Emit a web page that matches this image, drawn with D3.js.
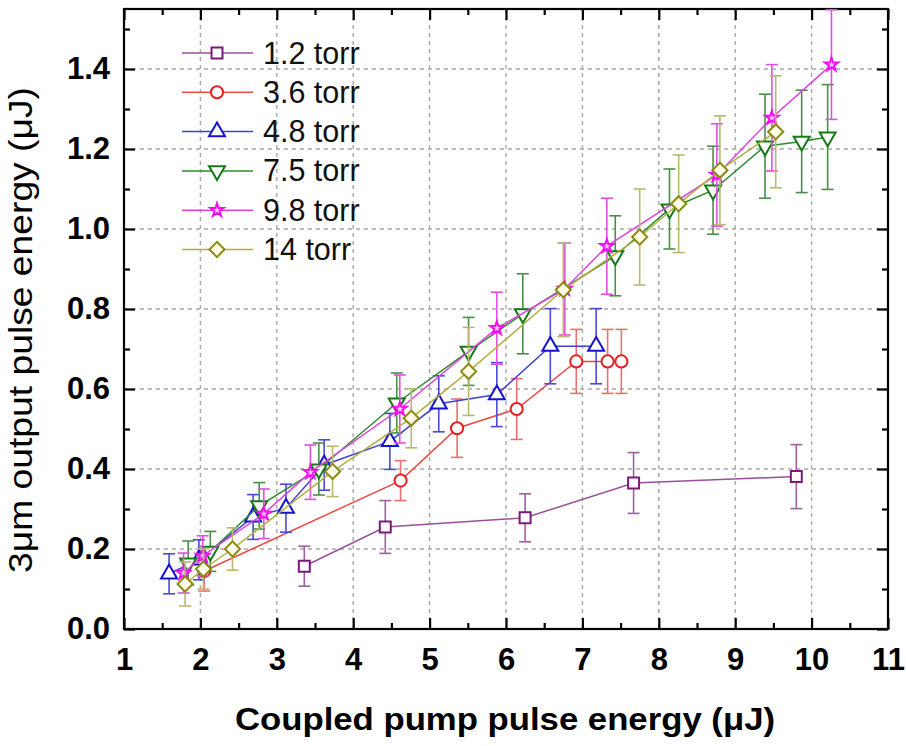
<!DOCTYPE html>
<html>
<head>
<meta charset="utf-8">
<script src="https://cdn.jsdelivr.net/npm/d3@7"></script>
<style>
  body { margin: 0; background: #fff; }
  text { font-family: "Liberation Sans", Arial, sans-serif; }
</style>
</head>
<body>
<svg id="chart" width="906" height="746"></svg>
<script>
// pressure labels
var names = ["1.2 torr", "3.6 torr", "4.8 torr", "7.5 torr", "9.8 torr", "14 torr"];

// coupled pump energy (uJ), output energy (uJ), error (uJ) for each pressure
var x12 = [3.36, 4.42, 6.25, 7.67, 9.80];
var y12 = [0.157, 0.255, 0.278, 0.365, 0.381];
var e12 = [0.05, 0.066, 0.06, 0.076, 0.08];

var x36 = [2.05, 4.62, 5.36, 6.14, 6.92, 7.33, 7.51];
var y36 = [0.145, 0.371, 0.502, 0.55, 0.669, 0.669, 0.669];
var e36 = [0.05, 0.05, 0.073, 0.076, 0.08, 0.08, 0.08];

var x48 = [1.59, 1.98, 2.69, 3.12, 3.62, 4.48, 5.12, 5.88, 6.58, 7.18];
var y48 = [0.138, 0.173, 0.28, 0.302, 0.41, 0.469, 0.563, 0.586, 0.707, 0.707];
var e48 = [0.05, 0.05, 0.056, 0.06, 0.063, 0.07, 0.07, 0.08, 0.094, 0.094];

var x75 = [1.84, 2.13, 2.77, 3.55, 4.57, 5.51, 6.22, 7.43, 8.14, 8.71, 9.39, 9.87, 10.21];
var y75 = [0.165, 0.194, 0.308, 0.40, 0.565, 0.694, 0.788, 0.933, 1.05, 1.097, 1.207, 1.219, 1.23];
var e75 = [0.055, 0.05, 0.058, 0.065, 0.075, 0.085, 0.1, 0.1, 0.1, 0.11, 0.13, 0.128, 0.131];

var x98 = [1.78, 2.03, 2.83, 3.44, 4.61, 5.88, 6.77, 7.32, 8.76, 9.48, 10.26];
var y98 = [0.14, 0.183, 0.288, 0.392, 0.55, 0.752, 0.85, 0.957, 1.135, 1.278, 1.411];
var e98 = [0.05, 0.05, 0.062, 0.068, 0.085, 0.09, 0.115, 0.12, 0.128, 0.133, 0.137];

var x14 = [1.80, 2.04, 2.42, 3.73, 4.76, 5.51, 6.75, 7.75, 8.26, 8.80, 9.53];
var y14 = [0.1125, 0.15, 0.2, 0.394, 0.527, 0.644, 0.848, 0.98, 1.063, 1.147, 1.243];
var e14 = [0.055, 0.05, 0.053, 0.063, 0.074, 0.11, 0.117, 0.12, 0.122, 0.136, 0.14];

var xTicks = [1, 2, 3, 4, 5, 6, 7, 8, 9, 10, 11];
var yTicks = [0.0, 0.2, 0.4, 0.6, 0.8, 1.0, 1.2, 1.4];

var styles = [
  {line: "#9a4f9a", mark: "#7a1a7a", err: "#a060a0", fill: "#fff", shape: "square"},
  {line: "#ec4a44", mark: "#e62020", err: "#e87070", fill: "#fff", shape: "circle"},
  {line: "#4040d4", mark: "#1414d0", err: "#4a4ad4", fill: "#fff", shape: "triangle"},
  {line: "#2e8a2e", mark: "#157a15", err: "#4a904a", fill: "#fff", shape: "triangleDown"},
  {line: "#e040e0", mark: "#f010f0", err: "#e050e0", fill: "#ffc8ff", shape: "star"},
  {line: "#b0b040", mark: "#8a8a10", err: "#b8b870", fill: "#fffde8", shape: "diamond"}
];

var xs = [x12, x36, x48, x75, x98, x14];
var ys = [y12, y36, y48, y75, y98, y14];
var es = [e12, e36, e48, e75, e98, e14];

var data = names.map(function(n, i) {
  return {
    name: n,
    style: styles[i],
    points: xs[i].map(function(v, j) { return {x: v, y: ys[i][j], e: es[i][j]}; })
  };
});

var svg = d3.select("#chart");
var pLeft = 124, pRight = 888, pTop = 9, pBottom = 629;

var x = d3.scaleLinear().domain([1, 11]).range([pLeft, pRight]);
var y = d3.scaleLinear().domain([0, 1.55]).range([pBottom, pTop]);

// grid
var grid = svg.append("g").attr("stroke", "#a8a8a8").attr("stroke-width", 1.4)
  .attr("stroke-dasharray", "4,4");
grid.selectAll(".gx").data(d3.range(2, 11)).enter().append("line")
  .attr("x1", function(d) { return x(d); }).attr("x2", function(d) { return x(d); })
  .attr("y1", pTop).attr("y2", pBottom);
grid.selectAll(".gy").data(yTicks.slice(1)).enter().append("line")
  .attr("x1", pLeft).attr("x2", pRight)
  .attr("y1", function(d) { return y(d); }).attr("y2", function(d) { return y(d); });

// axes
function styleAxis(g) {
  g.selectAll("path").remove();
  g.selectAll(".tick line").attr("stroke", "#000").attr("stroke-width", 2.2);
  g.selectAll("text").attr("font-size", 31).attr("font-weight", "bold").attr("fill", "#000");
}
var minorX = d3.range(1.5, 11, 1);
var minorY = d3.range(0.1, 1.55, 0.2);

svg.append("g").attr("transform", "translate(0," + pBottom + ")")
  .call(d3.axisBottom(x).tickValues(xTicks).tickSize(-11).tickPadding(19).tickFormat(d3.format("d")))
  .call(styleAxis);
svg.append("g").attr("transform", "translate(0," + pBottom + ")")
  .call(d3.axisBottom(x).tickValues(minorX).tickSize(-6).tickFormat(""))
  .call(styleAxis);
svg.append("g").attr("transform", "translate(0," + pTop + ")")
  .call(d3.axisTop(x).tickValues(xTicks).tickSize(-11).tickFormat(""))
  .call(styleAxis);
svg.append("g").attr("transform", "translate(0," + pTop + ")")
  .call(d3.axisTop(x).tickValues(minorX).tickSize(-6).tickFormat(""))
  .call(styleAxis);
svg.append("g").attr("transform", "translate(" + pLeft + ",0)")
  .call(d3.axisLeft(y).tickValues(yTicks).tickSize(-11).tickPadding(14).tickFormat(d3.format(".1f")))
  .call(styleAxis);
svg.append("g").attr("transform", "translate(" + pLeft + ",0)")
  .call(d3.axisLeft(y).tickValues(minorY).tickSize(-6).tickFormat(""))
  .call(styleAxis);
svg.append("g").attr("transform", "translate(" + pRight + ",0)")
  .call(d3.axisRight(y).tickValues(yTicks).tickSize(-11).tickFormat(""))
  .call(styleAxis);
svg.append("g").attr("transform", "translate(" + pRight + ",0)")
  .call(d3.axisRight(y).tickValues(minorY).tickSize(-6).tickFormat(""))
  .call(styleAxis);

svg.append("rect").attr("x", pLeft).attr("y", pTop)
  .attr("width", pRight - pLeft).attr("height", pBottom - pTop)
  .attr("fill", "none").attr("stroke", "#000").attr("stroke-width", 2.2);

// symbols
function symbolPath(shape) {
  if (shape === "square") return d3.symbol(d3.symbolSquare, 120)();
  if (shape === "circle") return d3.symbol(d3.symbolCircle, 115)();
  if (shape === "triangle" || shape === "triangleDown") return d3.symbol(d3.symbolTriangle, 110)();
  if (shape === "star") return d3.symbol(d3.symbolStar, 55)();
  return d3.symbol(d3.symbolSquare, 115)();
}
function symbolRotate(shape) {
  if (shape === "triangleDown") return " rotate(180)";
  if (shape === "diamond") return " rotate(45)";
  return "";
}

var line = d3.line().x(function(d) { return x(d.x); }).y(function(d) { return y(d.y); });
var plot = svg.append("g");

data.forEach(function(s) {
  var g = plot.append("g");
  g.append("path").datum(s.points).attr("d", line)
    .attr("fill", "none").attr("stroke", s.style.line).attr("stroke-width", 1.5);

  var eb = g.selectAll(".eb").data(s.points).enter().append("g")
    .attr("stroke", s.style.err).attr("stroke-width", 1.6);
  eb.append("line")
    .attr("x1", function(d) { return x(d.x); }).attr("x2", function(d) { return x(d.x); })
    .attr("y1", function(d) { return y(Math.min(d.y + d.e, 1.55)); })
    .attr("y2", function(d) { return y(d.y - d.e); });
  eb.filter(function(d) { return d.y + d.e < 1.55; }).append("line")
    .attr("x1", function(d) { return x(d.x) - 6; }).attr("x2", function(d) { return x(d.x) + 6; })
    .attr("y1", function(d) { return y(d.y + d.e); }).attr("y2", function(d) { return y(d.y + d.e); });
  eb.append("line")
    .attr("x1", function(d) { return x(d.x) - 6; }).attr("x2", function(d) { return x(d.x) + 6; })
    .attr("y1", function(d) { return y(d.y - d.e); }).attr("y2", function(d) { return y(d.y - d.e); });

  g.selectAll(".mk").data(s.points).enter().append("path")
    .attr("d", symbolPath(s.style.shape))
    .attr("transform", function(d) {
      return "translate(" + x(d.x) + "," + y(d.y) + ")" + symbolRotate(s.style.shape);
    })
    .attr("fill", s.style.fill).attr("stroke", s.style.mark).attr("stroke-width", 2);
});

// legend
var legend = svg.append("g");
data.forEach(function(s, i) {
  var ly = 53 + i * 39.3;
  legend.append("line").attr("x1", 182).attr("x2", 253).attr("y1", ly).attr("y2", ly)
    .attr("stroke", s.style.line).attr("stroke-width", 1.5);
  legend.append("path").attr("d", symbolPath(s.style.shape))
    .attr("transform", "translate(217," + ly + ")" + symbolRotate(s.style.shape))
    .attr("fill", s.style.fill).attr("stroke", s.style.mark).attr("stroke-width", 2);
  legend.append("text").attr("x", 263).attr("y", ly + 10.5)
    .attr("font-size", 30.5).attr("fill", "#111").text(s.name);
});

// axis titles
svg.append("text").attr("x", 505).attr("y", 730).attr("text-anchor", "middle")
  .attr("font-size", 31).attr("font-weight", "bold")
  .attr("textLength", 540).attr("lengthAdjust", "spacingAndGlyphs")
  .text("Coupled pump pulse energy (\u03bcJ)");
svg.append("text").attr("transform", "translate(32,330) rotate(-90)").attr("text-anchor", "middle")
  .attr("font-size", 34)
  .attr("textLength", 486).attr("lengthAdjust", "spacingAndGlyphs")
  .text("3\u03bcm output pulse energy (\u03bcJ)");
</script>
</body>
</html>
